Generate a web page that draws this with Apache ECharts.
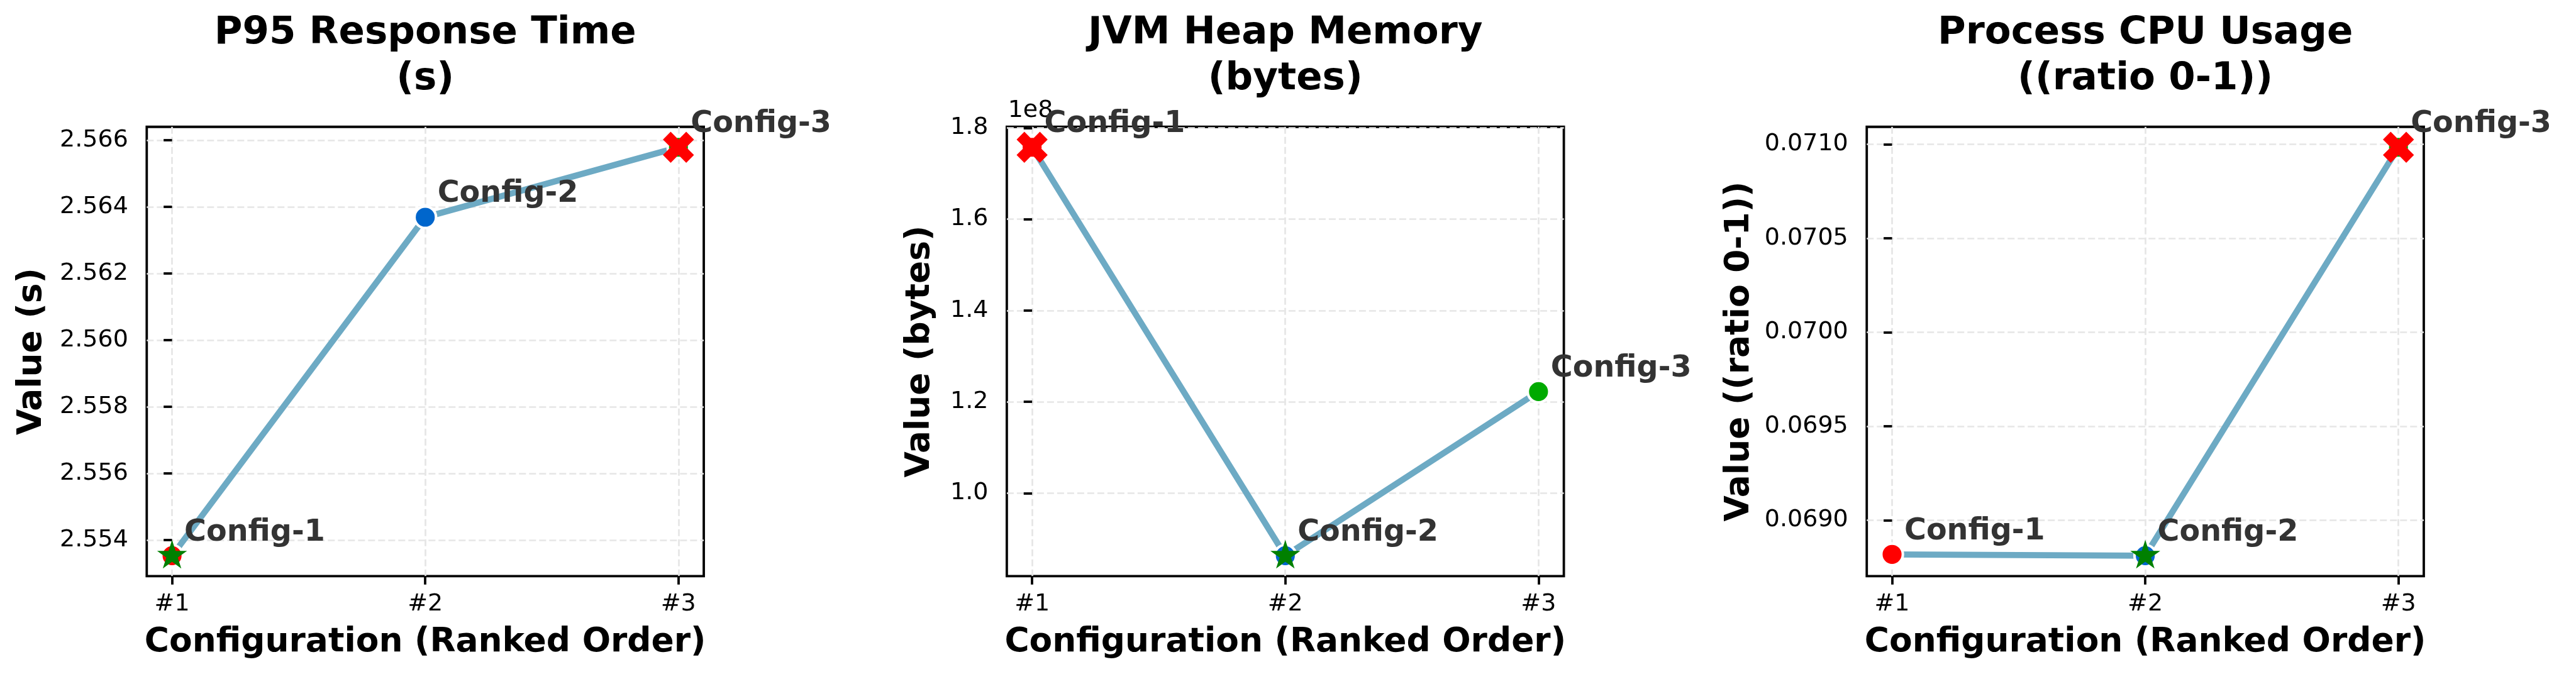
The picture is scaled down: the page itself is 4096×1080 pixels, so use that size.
<!DOCTYPE html>
<html><head><meta charset="utf-8">
<script src="https://cdn.jsdelivr.net/npm/echarts@6/dist/echarts.min.js"></script>
<style>html,body{margin:0;padding:0;background:#fff}#c{width:4096px;height:1080px}</style>
</head><body><div id="c"></div>
<script>
// ---------------- data ----------------
const configs = ['Config-1', 'Config-2', 'Config-3'];
const xTickLabels = ['#1', '#2', '#3'];
const titles = ['P95 Response Time\n(s)', 'JVM Heap Memory\n(bytes)', 'Process CPU Usage\n((ratio 0-1))'];
const yNames = ['Value (s)', 'Value (bytes)', 'Value ((ratio 0-1))'];
const xName = 'Configuration (Ranked Order)';
const p95Values = [2.55353, 2.56369, 2.56579];
const heapValues = [175740000, 86320000, 122240000];
const cpuValues = [0.068818, 0.068811, 0.070984];
const p95Ticks = [2.554, 2.556, 2.558, 2.560, 2.562, 2.564, 2.566];
const p95TickLabels = ['2.554', '2.556', '2.558', '2.560', '2.562', '2.564', '2.566'];
const heapTicks = [1.0e8, 1.2e8, 1.4e8, 1.6e8, 1.8e8];
const heapTickLabels = ['1.0', '1.2', '1.4', '1.6', '1.8'];
const heapOffsetText = '1e8';
const cpuTicks = [0.0690, 0.0695, 0.0700, 0.0705, 0.0710];
const cpuTickLabels = ['0.0690', '0.0695', '0.0700', '0.0705', '0.0710'];
const circleColors = ['#ff0000', '#0066cc', '#00aa00'];

// ---------------- layout / style ----------------
const S = 0.915;
const FONT = 'DejaVu Sans';
const gLeft = [255, 1749.6, 3244].map(v => v * S);
const gTop = 220.5 * S, gW = 968 * S, gH = 781 * S;
const yNameGap = [155.8, 111.5, 176];
const panels = [
  {values: p95Values, ticks: p95Ticks, labels: p95TickLabels},
  {values: heapValues, ticks: heapTicks, labels: heapTickLabels},
  {values: cpuValues, ticks: cpuTicks, labels: cpuTickLabels}
];

function starPath() {
  let d = '';
  for (let k = 0; k < 10; k++) {
    const a = (-90 + k * 36) * Math.PI / 180;
    const r = k % 2 ? 38.1966 : 100;
    d += (k ? 'L' : 'M') + (r * Math.cos(a)).toFixed(3) + ',' + (r * Math.sin(a)).toFixed(3);
  }
  return 'path://' + d + 'Z';
}
const xPath = 'path://M-1,-2L0,-1L1,-2L2,-1L1,0L2,1L1,2L0,1L-1,2L-2,1L-1,0L-2,-1Z';

const grid = [], xAxis = [], yAxis = [], series = [], graphic = [];
panels.forEach((p, i) => {
  const vmin = Math.min(...p.values), vmax = Math.max(...p.values);
  const pad = (vmax - vmin) * 0.05;
  grid.push({left: gLeft[i], top: gTop, width: gW, height: gH, show: true,
    borderColor: '#000', borderWidth: 3.8, backgroundColor: 'transparent',
    containLabel: false, outerBoundsMode: 'none'});
  const split = {show: true, lineStyle: {color: '#e6e6e6', width: 2.7, type: [11, 5]}};
  xAxis.push({gridIndex: i, type: 'value', min: -0.1, max: 2.1,
    axisLine: {show: false},
    axisTick: {show: true, inside: false, length: 13.4, lineStyle: {color: '#000', width: 3.8}, customValues: [0, 1, 2]},
    axisLabel: {customValues: [0, 1, 2], formatter: v => xTickLabels[Math.round(v)],
      fontSize: 38, color: '#000', fontFamily: FONT, margin: 25.8},
    splitLine: split,
    name: xName, nameLocation: 'middle', nameGap: 79,
    nameTextStyle: {fontSize: 53.4, fontWeight: 'bold', color: '#000', fontFamily: FONT}});
  yAxis.push({gridIndex: i, type: 'value', min: vmin - pad, max: vmax + pad, scale: true,
    axisLine: {show: false},
    axisTick: {show: true, inside: false, length: 13.4, lineStyle: {color: '#000', width: 3.8}, customValues: p.ticks},
    axisLabel: {customValues: p.ticks, formatter: v => {
        let best = 0; p.ticks.forEach((t, k) => { if (Math.abs(t - v) < Math.abs(p.ticks[best] - v)) best = k; });
        return p.labels[best]; },
      fontSize: 38, color: '#000', fontFamily: FONT, margin: 29.5},
    splitLine: split,
    name: yNames[i], nameLocation: 'middle', nameRotate: 90, nameGap: yNameGap[i],
    nameTextStyle: {fontSize: 53.4, fontWeight: 'bold', color: '#000', fontFamily: FONT}});
  const pts = p.values.map((v, j) => [j, v]);
  series.push({type: 'line', xAxisIndex: i, yAxisIndex: i, data: pts, symbol: 'none',
    lineStyle: {color: '#6daac4', width: 9.8}, z: 2, silent: true});
  series.push({type: 'scatter', xAxisIndex: i, yAxisIndex: i, z: 3, silent: true,
    symbol: 'circle', symbolSize: 34.3,
    data: p.values.map((v, j) => ({name: configs[j], value: [j, v],
      itemStyle: {color: circleColors[j], borderColor: '#fff', borderWidth: 4.1, opacity: 1}})),
    label: {show: true, formatter: '{b}', position: [17.15 + 21.5, 17.15 - 34.5], align: 'left', verticalAlign: 'middle',
      fontSize: 47.6, fontWeight: 'bold', color: '#333333', fontFamily: FONT,
      textBorderWidth: 0, textBorderColor: 'transparent', opacity: 1}});
  const iMin = p.values.indexOf(vmin), iMax = p.values.indexOf(vmax);
  series.push({type: 'scatter', xAxisIndex: i, yAxisIndex: i, z: 4, silent: true,
    symbol: starPath(), symbolSize: [47.6, 45.3], symbolOffset: [0, -2.4],
    itemStyle: {color: '#008000', opacity: 1}, data: [[iMin, vmin]]});
  series.push({type: 'scatter', xAxisIndex: i, yAxisIndex: i, z: 4, silent: true,
    symbol: xPath, symbolSize: 49.4,
    itemStyle: {color: '#ff0000', opacity: 1}, data: [[iMax, vmax]]});
  graphic.push({type: 'text', x: gLeft[i] + gW / 2, y: 17.1, silent: true,
    style: {text: titles[i], fontSize: 61, fontWeight: 'bold', fontFamily: FONT, fill: '#000',
      align: 'center', verticalAlign: 'top', lineHeight: 73}});
});
graphic.push({type: 'text', x: gLeft[1] + 1.8, y: 195.1, silent: true,
  style: {text: heapOffsetText, fontSize: 38, fontFamily: FONT, fill: '#000', align: 'left', verticalAlign: 'bottom'}});

const chart = echarts.init(document.getElementById('c'), null, {renderer: 'canvas'});
chart.setOption({animation: false, backgroundColor: '#fff', grid, xAxis, yAxis, series, graphic});
</script></body></html>
